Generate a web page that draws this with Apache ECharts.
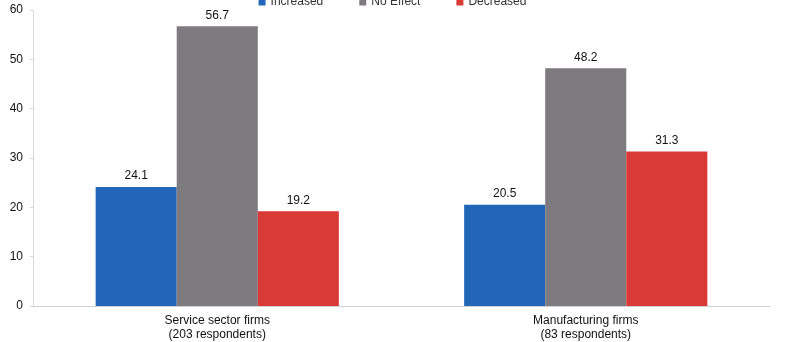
<!DOCTYPE html>
<html>
<head>
<meta charset="utf-8">
<script src="https://cdn.jsdelivr.net/npm/echarts@6/dist/echarts.min.js"></script>
<style>
  html, body { margin: 0; padding: 0; background: #fff; }
  #chart { width: 785px; height: 342px; }
</style>
</head>
<body>
<div id="chart"></div>
<script>
// categories and series values
var categories = ['Service sector firms\n(203 respondents)', 'Manufacturing firms\n(83 respondents)']
var seriesNames = ['Increased', 'No Effect', 'Decreased']
var increased = [24.1, 20.5]
var noEffect = [56.7, 48.2]
var decreased = [19.2, 31.3]
var colors = ['#2166b8', '#7d7a80', '#d93a36']

var myChart = echarts.init(document.getElementById('chart'))

var labelStyle = {
  show: true,
  position: 'top',
  distance: 5,
  color: '#111',
  fontSize: 12,
  fontFamily: 'Liberation Sans, Arial, sans-serif'
}

function makeSeries(name, data, i) {
  return {
    name: name,
    type: 'bar',
    data: data,
    barGap: '0%',
    barCategoryGap: '34%',
    itemStyle: { color: colors[i] },
    label: labelStyle
  }
}

var option = {
  animation: false,
  textStyle: { fontFamily: 'Liberation Sans, Arial, sans-serif' },
  legend: {
    top: -9,
    left: 'center',
    itemWidth: 7,
    itemHeight: 7,
    itemGap: 36,
    icon: 'rect',
    textStyle: { color: '#333', fontSize: 12 },
    data: seriesNames
  },
  grid: {
    left: 33,
    right: 15,
    top: 10,
    bottom: 35,
    containLabel: false
  },
  xAxis: {
    type: 'category',
    data: categories,
    axisLine: { lineStyle: { color: '#d0d0d0', width: 1 } },
    axisTick: { show: false },
    axisLabel: { color: '#111', fontSize: 12, lineHeight: 14, margin: 8 }
  },
  yAxis: {
    type: 'value',
    min: 0,
    max: 60,
    interval: 10,
    axisLine: { show: true, lineStyle: { color: '#d8d8d8' } },
    axisTick: { show: true, length: 3, lineStyle: { color: '#d8d8d8' } },
    splitLine: { show: false },
    axisLabel: { color: '#111', fontSize: 12, margin: 10 }
  },
  series: [
    makeSeries(seriesNames[0], increased, 0),
    makeSeries(seriesNames[1], noEffect, 1),
    makeSeries(seriesNames[2], decreased, 2)
  ]
}

myChart.setOption(option)
</script>
</body>
</html>
